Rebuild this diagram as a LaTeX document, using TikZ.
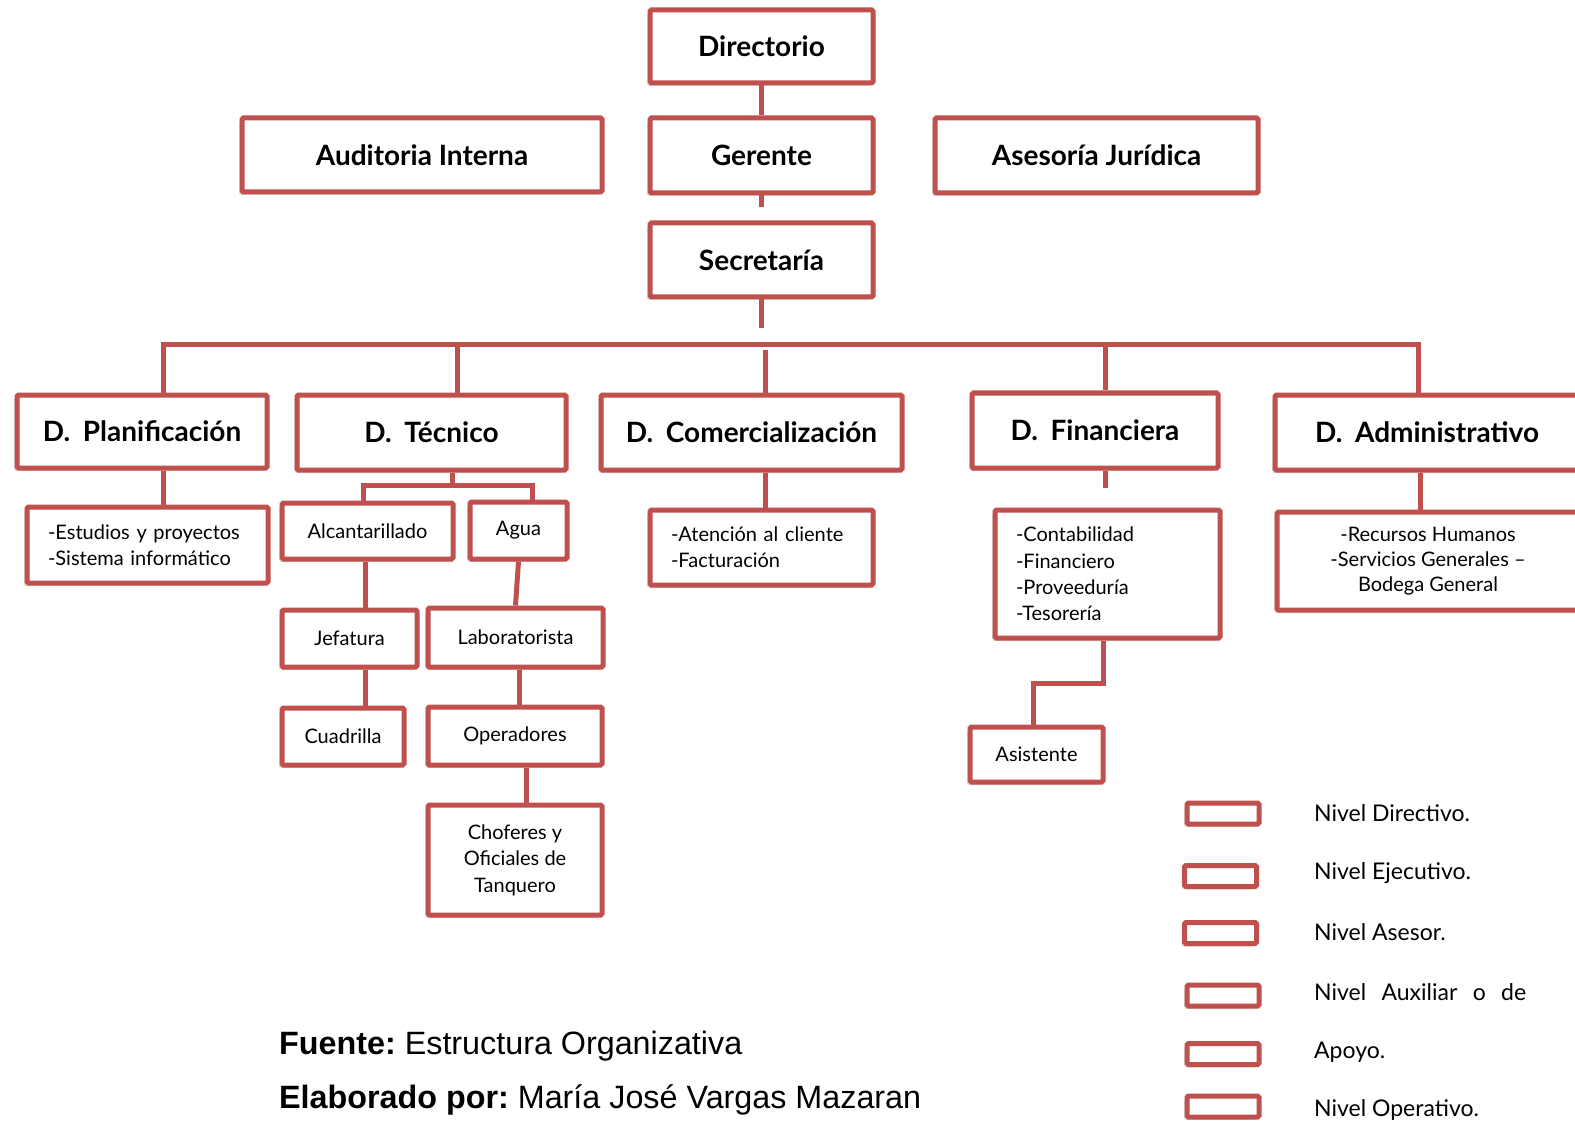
\documentclass[tikz,border=0pt]{standalone}
\usepackage{fontspec}
\setmainfont{Lato}
\newfontfamily\arialf{Liberation Sans}
\usetikzlibrary{shadows}
\definecolor{boxred}{HTML}{C0504D}
\begin{document}
\begin{tikzpicture}[x=1pt,y=-1pt,
 box/.style={draw=boxred, line width=5pt, fill=white, rounded corners=1.5pt, inner sep=0pt,
   drop shadow={opacity=0.25, shadow xshift=-3pt, shadow yshift=-3pt}},
 title/.style={box, font=\bfseries\fontsize{28}{34}\selectfont},
 sub/.style={box, font=\fontsize{20}{26}\selectfont, align=center},
 list/.style={box, font=\fontsize{20}{26.3}\selectfont, align=left, inner xsep=21pt},
 conn/.style={draw=boxred, line width=5pt},
 legbox/.style={box, minimum width=72pt, minimum height=21pt},
 legtxt/.style={anchor=west, font=\fontsize{23}{28}\selectfont, inner sep=0pt},
 foot/.style={anchor=base west, inner sep=0pt, font=\arialf\frenchspacing\fontsize{32.3}{38}\selectfont}]
\useasboundingbox[fill=white] (0,0) rectangle (1575,1123);

% top levels
\node[title, minimum width=223pt, minimum height=73pt] (dir) at (761.5,46.5) {Directorio};
\node[title, minimum width=223pt, minimum height=75pt] (ger) at (761.5,155.5) {Gerente};
\node[title, minimum width=223pt, minimum height=74pt] (sec) at (761.5,260) {Secretaría};
\node[title, minimum width=360pt, minimum height=74pt] (aud) at (422,155) {Auditoria Interna};
\node[title, minimum width=323pt, minimum height=75pt] (ase) at (1096.5,155.5) {Asesoría Jurídica};

% departments
\node[title, minimum width=250pt, minimum height=73pt] (plan) at (142,431.5) {D.\hspace{0.45em}Planificación};
\node[title, minimum width=269pt, minimum height=75pt] (tec) at (431.5,432.5) {D.\hspace{0.45em}Técnico};
\node[title, minimum width=301pt, minimum height=75pt] (com) at (751.5,432.5) {D.\hspace{0.45em}Comercialización};
\node[title, minimum width=246pt, minimum height=75pt] (fin) at (1095,430.5) {D.\hspace{0.45em}Financiera};
\node[title, minimum width=304pt, minimum height=75pt] (adm) at (1427,432.5) {D.\hspace{0.45em}Administrativo};

% sub units
\node[list, text width=199pt, minimum height=76pt] (est) at (147.5,545) {-Estudios y proyectos\\-Sistema informático};
\node[sub, minimum width=171pt, minimum height=56pt] (alc) at (367.5,531) {Alcantarillado};
\node[sub, minimum width=97pt, minimum height=57pt] (agua) at (518.5,530.5) {Agua};
\node[sub, minimum width=135pt, minimum height=57pt] (jef) at (349.5,638.5) {Jefatura};
\node[sub, minimum width=175pt, minimum height=59pt] (lab) at (515.5,637.5) {Laboratorista};
\node[sub, minimum width=122pt, minimum height=57pt] (cua) at (343,736.5) {Cuadrilla};
\node[sub, minimum width=174pt, minimum height=58pt] (ope) at (515,736) {Operadores};
\node[sub, minimum width=174pt, minimum height=110pt, font=\fontsize{20}{26.5}\selectfont] (cho) at (515,860) {Choferes y\\Oficiales de\\Tanquero};
\node[list, text width=181pt, minimum height=75pt] (ate) at (761.5,547.5) {-Atención al cliente\\-Facturación};
\node[list, text width=183pt, minimum height=128pt] (con) at (1107.5,574) {-Contabilidad\\-Financiero\\-Proveeduría\\-Tesorería};
\node[sub, minimum width=133pt, minimum height=55pt] (asi) at (1036.5,754.5) {Asistente};
\node[sub, minimum width=302pt, minimum height=98pt, font=\fontsize{20}{25}\selectfont] (rh) at (1428,561) {-Recursos Humanos\\-Servicios Generales –\\Bodega General};

% legend
\node[legbox] (l1) at (1223,813.5) {};
\node[legbox] (l2) at (1220.5,876) {};
\node[legbox] (l3) at (1220.5,933) {};
\node[legbox] (l4) at (1223,995.5) {};
\node[legbox] (l5) at (1223,1054) {};
\node[legbox] (l6) at (1223,1106.5) {};
\node[legtxt] (t1) at (1314,813) {Nivel Directivo.};
\node[legtxt] (t2) at (1314,873) {Nivel Ejecutivo.};
\node[legtxt] (t3) at (1314,932) {Nivel Asesor.};
\node[legtxt] (t4) at (1314,992) {\makebox[212pt][s]{Nivel Auxiliar o de}};
\node[legtxt] (t5) at (1314,1052) {Apoyo.};
\node[legtxt] (t6) at (1314,1110) {Nivel Operativo.};

% footer
\node[foot] (f1) at (279,1054) {\textbf{Fuente:} Estructura Organizativa};
\node[foot] (f2) at (279,1108) {\textbf{Elaborado por:} María José Vargas Mazaran};

% connectors
\draw[conn] (dir.south) -- (ger.north);
\coordinate (gs) at (761.5,207);
\draw[conn] (ger.south) -- (gs);
\coordinate (ss) at (761.5,328);
\draw[conn] (sec.south) -- (ss);
\coordinate (bL) at (163,345);
\coordinate (bR) at (1418,345);
\coordinate (bT) at (457,345);
\coordinate (bC) at (765,350);
\coordinate (bF) at (1105,345);
\draw[conn] (bL |- plan.north) -- (bL) -- (bR) -- (bR |- adm.north);
\draw[conn] (bT) -- (bT |- tec.north);
\draw[conn] (bC) -- (bC |- com.north);
\draw[conn] (bF) -- (bF |- fin.north);
\draw[conn] (bL |- plan.south) -- (bL |- est.north);
\coordinate (tb) at (452,485);
\coordinate (tl) at (363,485);
\coordinate (tr) at (532,485);
\draw[conn] (tb |- tec.south) -- (tb);
\draw[conn] (tl |- alc.north) -- (tl) -- (tr) -- (tr |- agua.north);
\coordinate (xa) at (365,0);
\draw[conn] (xa |- alc.south) -- (xa |- jef.north);
\draw[conn] (xa |- jef.south) -- (xa |- cua.north);
\draw[conn] (agua.south) -- (lab.north);
\coordinate (xl) at (519,0);
\draw[conn] (xl |- lab.south) -- (xl |- ope.north);
\coordinate (xo) at (526,0);
\draw[conn] (xo |- ope.south) -- (xo |- cho.north);
\coordinate (xc) at (765,0);
\draw[conn] (xc |- com.south) -- (xc |- ate.north);
\coordinate (fs) at (1105,488);
\draw[conn] (fs |- fin.south) -- (fs);
\coordinate (ca) at (1103,683);
\coordinate (cb) at (1033,683);
\draw[conn] (ca |- con.south) -- (ca) -- (cb) -- (cb |- asi.north);
\coordinate (xr) at (1420,0);
\draw[conn] (xr |- adm.south) -- (xr |- rh.north);
\end{tikzpicture}
\end{document}
